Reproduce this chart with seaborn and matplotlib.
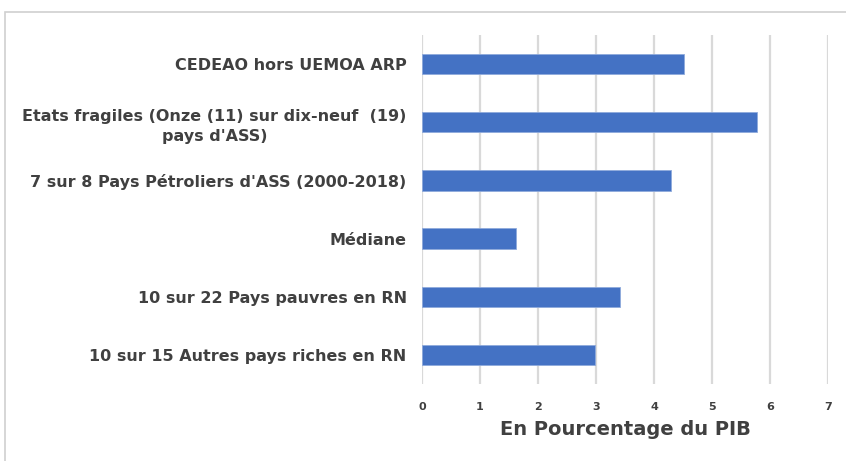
import matplotlib
matplotlib.use("Agg")
import matplotlib.pyplot as plt
import matplotlib.patches as mpatches
import seaborn as sns
import pandas as pd

categories = [
    "CEDEAO hors UEMOA ARP",
    "Etats fragiles (Onze (11) sur dix-neuf  (19)\npays d'ASS)",
    "7 sur 8 Pays Pétroliers d'ASS (2000-2018)",
    "Médiane",
    "10 sur 22 Pays pauvres en RN",
    "10 sur 15 Autres pays riches en RN",
]
values = [4.52, 5.78, 4.30, 1.62, 3.41, 2.98]
x_ticks = [0, 1, 2, 3, 4, 5, 6, 7]
x_label = "En Pourcentage du PIB"

df = pd.DataFrame({"cat": categories, "val": values})

sns.set_theme(style="white")
plt.rcParams["font.family"] = ["DejaVu Sans"]

fig = plt.figure(figsize=(8.46, 4.61), dpi=100)
ax = fig.add_axes([422/846, 1-384/461, (828-422)/846, (384-35)/461])

sns.barplot(data=df, y="cat", x="val", orient="h", color="#4472C4",
            saturation=1, width=0.35, ax=ax, zorder=3,
            edgecolor="#8FAADC", linewidth=0.6)

ax.set_xlim(0, 7)
ax.set_xticks(x_ticks)
ax.set_xticklabels([str(t) for t in x_ticks], fontsize=8, fontweight="bold", color="#404040")
ax.grid(axis="x", color="#d9d9d9", linewidth=1.6, zorder=0)
ax.grid(axis="y", visible=False)
for s in ax.spines.values():
    s.set_visible(False)
ax.tick_params(axis="x", length=0, pad=13)
ax.tick_params(axis="y", length=0, pad=11)
ax.set_ylabel("")
ax.set_xlabel(x_label, fontsize=14, fontweight="bold", color="#404040", labelpad=6)
for lab in ax.get_yticklabels():
    lab.set_fontsize(11.5)
    lab.set_fontweight("bold")
    lab.set_color("#404040")
    lab.set_multialignment("center")
    lab.set_linespacing(1.45)

# outer chart frame
rect = mpatches.Rectangle((5/846, -0.5), 2.0, 1 - 12/461 + 0.5, transform=fig.transFigure,
                          fill=False, edgecolor="#d0d0d0", linewidth=1.2, clip_on=False)
fig.patches.append(rect)

fig.savefig("out.png", dpi=100)
